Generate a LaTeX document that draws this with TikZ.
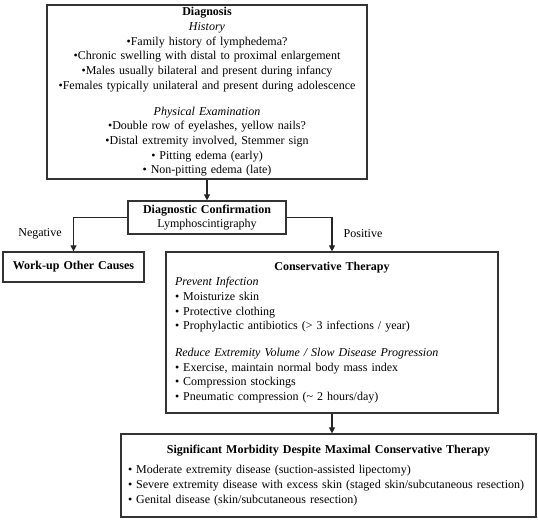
\documentclass[tikz,border=0pt]{standalone}
\usepackage{fontspec}
\setmainfont{Liberation Serif}
\usetikzlibrary{arrows.meta,shadows}
\begin{document}
\begin{tikzpicture}[x=1pt,y=-1pt,
  box/.style={draw=black!80, line width=1.2pt, fill=white, inner sep=0pt,
    drop shadow={shadow xshift=0.9pt, shadow yshift=-0.9pt, fill=black!50, opacity=0.5},
    font=\fontsize{12}{14.7}\selectfont},
  arr/.style={draw=black!85, line width=1.1pt, -{Triangle[width=6pt,length=6pt]}},
  lbl/.style={font=\fontsize{12}{14}\selectfont, inner sep=0pt}]
\useasboundingbox (0,0) rectangle (538,520);
\node[box, text width=320pt, align=center, minimum height=174pt] (diag) at (207,92)
 {\textbf{Diagnosis}\\
  \textit{History}\\
  •Family history of lymphedema?\\
  •Chronic swelling with distal to proximal enlargement\\
  •Males usually bilateral and present during infancy\\
  •Females typically unilateral and present during adolescence\\[11pt]
  \textit{Physical Examination}\\
  •Double row of eyelashes, yellow nails?\\
  •Distal extremity involved, Stemmer sign\\
  • Pitting edema (early)\\
  • Non-pitting edema (late)};
\node[box, text width=158pt, align=center, minimum height=33pt] (conf) at (207,217.5)
 {\textbf{Diagnostic Confirmation}\\Lymphoscintigraphy};
\node[box, text width=141pt, align=center, minimum height=30pt] (work) at (73.5,267)
 {\textbf{Work-up Other Causes}};
\node[box, text width=314pt, inner xsep=9pt, align=left, minimum height=161pt] (cons) at (332,332.5)
 {\makebox[\linewidth][c]{\textbf{Conservative Therapy}}\\[1pt]
  \textit{Prevent Infection}\\
  • Moisturize skin\\
  • Protective clothing\\
  • Prophylactic antibiotics (> 3 infections / year)\\[12pt]
  \textit{Reduce Extremity Volume / Slow Disease Progression}\\
  • Exercise, maintain normal body mass index\\
  • Compression stockings\\
  • Pneumatic compression (\textasciitilde\ 2 hours/day)};
\node[box, text width=401pt, inner xsep=7pt, align=left, minimum height=83pt] (sig) at (328.5,475.5)
 {\makebox[\linewidth][c]{\textbf{Significant Morbidity Despite Maximal Conservative Therapy}}\\[5pt]
  • Moderate extremity disease (suction-assisted lipectomy)\\
  • Severe extremity disease with excess skin (staged skin/subcutaneous resection)\\
  • Genital disease (skin/subcutaneous resection)};
\node[lbl] (neg) at (40,234) {Negative};
\node[lbl] (pos) at (363,234) {Positive};
\draw[arr] (diag.south) -- (conf.north);
\draw[arr] (conf.west) -| (work.north);
\draw[arr] (conf.east) -| (cons.north);
\draw[arr] (cons.south) -- (cons.south |- sig.north);
\end{tikzpicture}
\end{document}
